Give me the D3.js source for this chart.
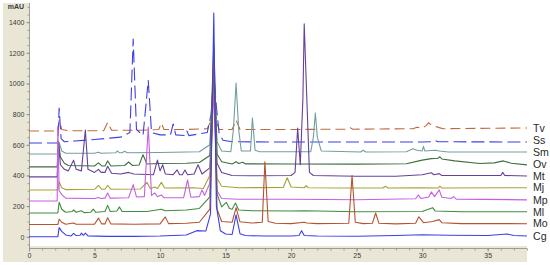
<!DOCTYPE html>
<html>
<head>
<meta charset="utf-8">
<script src="https://cdn.jsdelivr.net/npm/d3@7"></script>
<style>
  html, body { margin: 0; padding: 0; background: #fff; }
  svg { display: block; }
</style>
</head>
<body>
<svg id="vis" width="550" height="265"></svg>
<script>
// traces: [time (min), mAU]
const Tv = [[0,690],[2.2,690],[2.3,760],[2.5,700],[3,692],[5.7,692],[6.0,745],[6.3,695],[7.5,695],[8.5,695],[9.9,700],[10.1,742],[10.3,700],[12,700],[13.6,705],[13.9,760],[14.1,1000],[14.3,760],[14.5,700],[15.5,700],[15.8,762],[16.1,700],[20,700],[24.3,702],[24.5,712],[24.7,702],[29.3,705],[29.6,715],[30.0,708],[30.3,725],[30.5,745],[30.7,728],[31.0,720],[31.3,712],[31.6,705],[38,710]];
const Ss = [[0,612],[2.2,612],[2.3,840],[2.45,640],[2.7,620],[3.5,625],[5,635],[7,650],[7.7,680],[7.95,1290],[8.2,700],[8.7,660],[9.1,1020],[9.35,680],[10,665],[10.8,665],[11.0,736],[11.2,665],[11.9,660],[12.05,690],[12.2,660],[13.6,680],[13.9,800],[14.1,1050],[14.3,850],[14.5,680],[14.8,630],[15.5,620],[20,618],[30,618],[30.8,620],[31,628],[31.2,620],[38,618]];
const Sm = [[0,540],[2.2,540],[2.3,615],[2.5,560],[2.8,545],[5,545],[5.3,552],[5.5,545],[6.6,548],[6.75,560],[6.9,548],[7.1,548],[7.3,558],[7.5,548],[10,550],[13,555],[13.8,600],[14.1,1100],[14.35,620],[14.7,560],[15.4,555],[15.6,700],[15.8,1003],[16.0,700],[16.2,560],[16.9,560],[17.05,775],[17.25,565],[17.6,555],[21.5,555],[21.7,650],[21.85,808],[22.0,650],[22.3,560],[25.3,553],[25.5,565],[25.7,553],[28.8,555],[29.3,575],[29.6,565],[30.0,560],[30.1,590],[30.2,560],[31.0,565],[31.3,560],[32,553],[38,553]];
const Ov = [[0,456],[2.15,456],[2.25,620],[2.4,520],[2.7,480],[3.0,465],[5.0,462],[5.3,482],[5.55,462],[5.8,462],[6.0,495],[6.25,462],[7.3,465],[7.6,488],[7.9,465],[8.4,468],[8.7,535],[9.0,475],[10,478],[12,480],[13,485],[13.8,530],[14.1,1250],[14.35,540],[14.7,490],[15.5,475],[15.8,490],[16.0,478],[16.3,486],[16.5,476],[20,475],[25,474],[28.8,476],[30.0,500],[30.7,510],[31.2,512],[31.35,522],[31.5,508],[32.5,495],[34.4,478],[35.5,482],[36.2,495],[36.8,480],[38,469]];
const Mt = [[0,391],[2.15,391],[2.25,600],[2.4,470],[2.7,440],[3.0,430],[3.4,500],[3.6,440],[4.0,430],[4.3,697],[4.5,440],[5,420],[5.3,440],[5.5,420],[5.8,420],[6.0,460],[6.3,415],[7,410],[7.6,420],[8,410],[9.5,405],[9.8,500],[10.0,430],[10.2,470],[10.4,410],[11.0,405],[11.3,436],[11.5,405],[11.7,405],[11.9,436],[12.1,405],[12.6,410],[12.9,470],[13.2,410],[13.8,450],[14.1,1100],[14.35,480],[14.7,420],[15.5,400],[17,398],[20,400],[20.3,420],[20.5,710],[20.7,470],[20.9,900],[21.0,1390],[21.2,900],[21.4,420],[21.7,400],[25,395],[28,395],[29,400],[30,405],[30.7,418],[30.9,405],[31.3,412],[31.5,400],[36.0,400],[36.15,420],[36.3,400],[38,397]];
const Mj = [[0,305],[2.2,305],[2.3,360],[2.5,320],[2.8,308],[5.0,310],[5.3,335],[5.55,310],[5.8,310],[6.0,335],[6.25,310],[8.5,312],[9.0,355],[9.25,315],[9.4,318],[9.6,325],[9.8,315],[10.1,355],[10.35,318],[12.5,320],[13.3,315],[13.8,400],[14.1,1000],[14.35,380],[14.7,330],[16,320],[19.4,322],[19.7,385],[20.0,325],[21.0,320],[21.15,333],[21.3,320],[24,318],[27.0,318],[27.2,330],[27.4,318],[30,320],[31.2,318],[31.35,330],[31.5,318],[38,320]];
const Mp = [[0,234],[2.15,234],[2.2,720],[2.3,300],[2.5,275],[2.8,252],[5.0,250],[5.3,256],[5.5,250],[5.8,252],[6.0,286],[6.2,252],[7.6,255],[7.95,340],[8.2,260],[8.8,262],[9.1,716],[9.35,270],[9.6,286],[9.8,262],[10.1,273],[10.3,255],[11.8,255],[12.1,371],[12.35,258],[13.0,262],[13.2,306],[13.4,270],[13.8,350],[14.1,960],[14.35,300],[14.7,250],[16,245],[20,245],[25,242],[29.5,248],[29.7,273],[29.9,250],[30.5,260],[30.7,293],[30.95,262],[31.3,306],[31.5,258],[32.2,250],[32.4,262],[32.6,246],[38,241]];
const Ml = [[0,155],[2.2,155],[2.3,225],[2.5,180],[2.8,160],[3.3,165],[3.4,175],[3.6,160],[4.0,170],[4.2,158],[4.7,160],[4.9,180],[5.1,160],[5.8,165],[6.0,205],[6.2,165],[6.7,168],[6.9,195],[7.1,165],[9,165],[10.1,180],[10.4,170],[12,175],[13,185],[13.8,260],[14.1,1200],[14.35,280],[14.7,195],[15.05,225],[15.3,185],[15.5,180],[15.75,220],[16.0,175],[17,170],[20,168],[21,170],[25,163],[30,165],[30.8,190],[31.0,168],[33,163],[38,163]];
const Mo = [[0,80],[2.2,80],[2.3,115],[2.5,95],[2.8,82],[3.4,90],[3.6,82],[5.0,82],[5.3,122],[5.55,84],[5.8,84],[6.0,125],[6.25,84],[8,82],[10,84],[10.4,130],[10.65,86],[12,88],[13,95],[13.8,180],[14.1,1150],[14.35,180],[14.7,100],[15.5,95],[15.8,190],[16.1,98],[17,90],[17.8,95],[18.0,490],[18.25,100],[18.8,88],[20,86],[21,95],[21.2,90],[22,86],[24.4,88],[24.65,400],[24.9,95],[25.5,86],[26.2,88],[26.45,155],[26.7,88],[28,84],[29.5,88],[29.75,130],[30.1,92],[30.8,100],[31.3,112],[31.5,92],[33,86],[36,86],[38,85]];
const Cg = [[0,0],[2.2,0],[2.3,60],[2.5,35],[2.8,12],[3.2,5],[3.4,22],[3.6,8],[3.9,10],[4.0,24],[4.15,10],[4.3,24],[4.5,6],[6,3],[8,3],[10,5],[12,12],[12.8,40],[13.5,38],[13.85,150],[14.1,1460],[14.3,200],[14.6,40],[15,18],[15.5,15],[15.8,143],[16.1,20],[16.5,8],[18,5],[20,5],[20.6,8],[20.8,40],[21.0,8],[22,5],[25,4],[28,8],[30,13],[32,10],[35,8],[36.5,18],[37,8],[38,5]];

const names = ["Tv", "Ss", "Sm", "Ov", "Mt", "Mj", "Mp", "Ml", "Mo", "Cg"];
const traces = [Tv, Ss, Sm, Ov, Mt, Mj, Mp, Ml, Mo, Cg];
const colors = ["#c2683f", "#3f3fe3", "#739e9e", "#426d40", "#65419a", "#a9a136", "#c55fe2", "#3f8c3c", "#b5522f", "#3d3fe6"];
const dashes = ["10,5", "13,5", null, null, null, null, null, null, null, null];

const xTickValues = [0, 5, 10, 15, 20, 25, 30, 35];
const yTickValues = [0, 200, 400, 600, 800, 1000, 1200, 1400];
const yUnit = "mAU";

let svg = d3.select("#vis"),
    beige = "#e9e6d5",
    plot = { left: 29, right: 527, top: 3, bottom: 246 },
    labelGap = 11.9;

const x = d3.scaleLinear().domain([0, 38]).range([plot.left, plot.right]);
const y = d3.scaleLinear().domain([-60, 1525]).range([plot.bottom, plot.top]);

// beige axis panels
svg.append("rect").attr("x", 3).attr("y", 3).attr("width", plot.left - 3).attr("height", 259).attr("fill", beige);
svg.append("rect").attr("x", 3).attr("y", plot.bottom).attr("width", plot.right - 3).attr("height", 16).attr("fill", beige);

// y axis: minor then major
const yAxisG = svg.append("g").attr("transform", `translate(${plot.left + 0.5},0)`);
yAxisG.append("g")
    .call(d3.axisLeft(y).tickValues(d3.range(-50, 1525, 50)).tickSize(2).tickFormat(""))
    .call(g => g.select(".domain").remove());
yAxisG.append("g")
    .call(d3.axisLeft(y).tickValues(yTickValues).tickSize(3).tickPadding(2).tickFormat(d3.format("d")))
    .call(g => g.select(".domain").attr("d", `M0,${plot.top}V${plot.bottom + 2}`));

// x axis
const xAxisG = svg.append("g").attr("transform", `translate(0,${plot.bottom + 2.5})`);
xAxisG.append("g")
    .call(d3.axisBottom(x).tickValues(d3.range(0, 39, 1)).tickSize(2).tickFormat(""))
    .call(g => g.select(".domain").remove());
xAxisG.append("g")
    .call(d3.axisBottom(x).tickValues(xTickValues).tickSize(3).tickPadding(2).tickFormat(d3.format("d")))
    .call(g => g.select(".domain").attr("d", `M${plot.left},0H${plot.right}`));

svg.selectAll(".tick line, .domain").attr("stroke", "#8a8a80").attr("stroke-width", 0.8);
svg.selectAll(".tick text")
    .attr("fill", "#3a3a3a")
    .style("font", "7px 'Liberation Sans', Arial, sans-serif");

svg.append("text")
    .attr("x", 16).attr("y", 9)
    .attr("text-anchor", "middle")
    .attr("fill", "#3a3a3a")
    .style("font", "bold 7px 'Liberation Sans', Arial, sans-serif")
    .text(yUnit);

// traces
const line = d3.line().x(d => x(d[0])).y(d => y(d[1]));

svg.append("g")
  .selectAll("path")
  .data(traces)
  .join("path")
    .attr("d", line)
    .attr("fill", "none")
    .attr("stroke", (d, i) => colors[i])
    .attr("stroke-width", 1.1)
    .attr("stroke-linejoin", "round")
    .attr("stroke-dasharray", (d, i) => dashes[i]);

// sample names at the right end of each trace, pushed apart from the bottom up
let labelY = traces.map(d => y(d[d.length - 1][1]));
for (let i = labelY.length - 2; i >= 0; i--) {
  labelY[i] = Math.min(labelY[i], labelY[i + 1] - labelGap);
}

svg.append("g")
  .selectAll("text")
  .data(names)
  .join("text")
    .attr("x", 533)
    .attr("y", (d, i) => labelY[i])
    .attr("dy", "0.35em")
    .attr("fill", "#2a2a2a")
    .style("font", "10.6px 'Liberation Sans', Arial, sans-serif")
    .text(d => d);
</script>
</body>
</html>
